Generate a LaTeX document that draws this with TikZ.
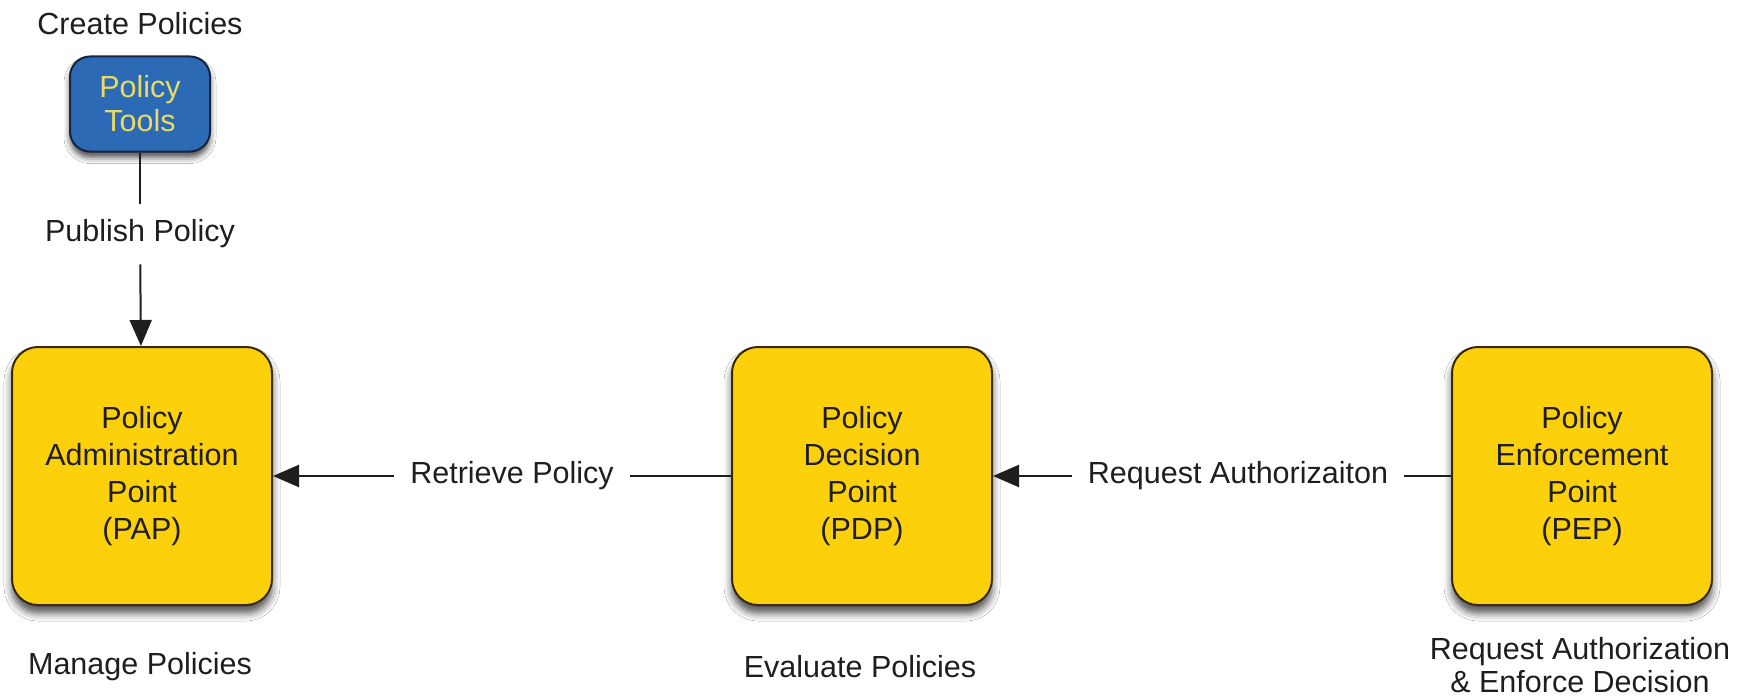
\documentclass[tikz,border=0pt]{standalone}
\usepackage{fontspec}
\setmainfont{Liberation Sans}
\usetikzlibrary{arrows.meta,shadows.blur}
\definecolor{boxyellow}{RGB}{253,208,12}
\definecolor{boxedge}{RGB}{55,42,12}
\definecolor{toolblue}{RGB}{44,106,182}
\definecolor{tooledge}{RGB}{22,36,62}
\definecolor{tooltext}{RGB}{232,218,100}
\definecolor{ink}{RGB}{30,30,30}
\begin{document}
\begin{tikzpicture}[x=1pt,y=-1pt,
  every node/.style={font=\fontsize{30.5}{37}\selectfont, text=ink},
  ybox/.style={draw=boxedge, line width=2pt, fill=boxyellow, rounded corners=26pt,
    minimum width=260pt, minimum height=258pt, align=center,
    blur shadow={shadow xshift=0pt, shadow yshift=-8pt, shadow blur radius=8pt, shadow opacity=70}},
  tbox/.style={draw=tooledge, line width=2pt, fill=toolblue, rounded corners=20pt,
    minimum width=140pt, minimum height=95pt, align=center, text=tooltext,
    font=\fontsize{30.5}{34}\selectfont,
    blur shadow={shadow xshift=0pt, shadow yshift=-6pt, shadow blur radius=6pt, shadow opacity=70}},
  lbl/.style={inner xsep=16pt, inner ysep=16pt},
  captext/.style={align=center, font=\fontsize{30.5}{33.5}\selectfont},
  conn/.style={draw=ink, line width=2pt},
  arr/.style={conn, -{Triangle[length=26pt,width=22pt]}}
  ]
  \useasboundingbox (0,0) rectangle (1750,698);
  \fill[white] (0,0) rectangle (1750,698);

  \node (create) at (140,24) {Create Policies};
  \node[tbox] (tools) at (140,104) {Policy\\Tools};
  \node[lbl] (publish) at (140,234) {Publish Policy};

  \node[ybox] (pap) at (142,476) {Policy\\Administration\\Point\\(PAP)};
  \node[ybox] (pdp) at (862,476) {Policy\\Decision\\Point\\(PDP)};
  \node[ybox] (pep) at (1582,476) {Policy\\Enforcement\\Point\\(PEP)};

  \node[lbl] (retrieve) at (512,476) {Retrieve Policy};
  \node[lbl] (request) at (1238,476) {Request Authorizaiton};

  \node (manage) at (140,667) {Manage Policies};
  \node (evaluate) at (860,667) {Evaluate Policies};
  \node[captext] (enforce) at (1580,665) {Request Authorization\\\& Enforce Decision};

  \draw[conn] (tools) -- (publish);
  \draw[arr] (publish) -- (pap);
  \draw[conn] (pdp) -- (retrieve);
  \draw[arr] (retrieve) -- (pap);
  \draw[conn] (pep) -- (request);
  \draw[arr] (request) -- (pdp);
\end{tikzpicture}
\end{document}
